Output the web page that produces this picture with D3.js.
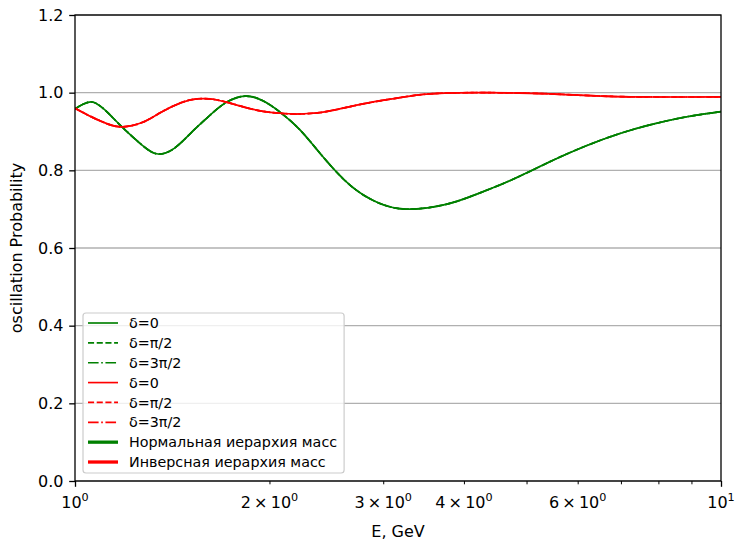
<!DOCTYPE html>
<html>
<head>
<meta charset="utf-8">
<script src="https://cdn.jsdelivr.net/npm/d3@7"></script>
<style>
  html, body { margin: 0; padding: 0; background: #fff; }
  svg { display: block; font-family: "DejaVu Sans", sans-serif; }
</style>
</head>
<body>
<svg id="chart" width="735" height="544"></svg>
<script>
// ---- data ----
const energiesNormal = [1.000, 1.029, 1.0625, 1.093, 1.125, 1.182, 1.270, 1.344, 1.428, 1.5175, 1.606, 1.707, 1.833, 1.954, 2.0765, 2.230, 2.420, 2.665, 2.934, 3.265, 3.766, 4.236, 4.765, 5.495, 6.203, 6.977, 7.848, 8.859, 10.0];
const normalProb = [0.958, 0.970, 0.976, 0.966, 0.948, 0.912, 0.865, 0.842, 0.858, 0.899, 0.937, 0.973, 0.991, 0.979, 0.950, 0.904, 0.835, 0.762, 0.718, 0.700, 0.713, 0.742, 0.777, 0.826, 0.864, 0.895, 0.919, 0.938, 0.951];
const energiesInverted = [1.000, 1.0625, 1.125, 1.182, 1.270, 1.364, 1.464, 1.545, 1.635, 1.738, 1.846, 1.954, 2.0765, 2.206, 2.336, 2.482, 2.791, 3.151, 3.544, 4.281, 5.436, 6.903, 10.0];
const invertedProb = [0.960, 0.937, 0.919, 0.912, 0.923, 0.951, 0.975, 0.984, 0.983, 0.973, 0.961, 0.952, 0.947, 0.945, 0.947, 0.953, 0.971, 0.986, 0.997, 1.000, 0.997, 0.990, 0.989];
const deltaLabels = ["δ=0", "δ=π/2", "δ=3π/2"];
const hierarchyLabels = ["Нормальная иерархия масс", "Инверсная иерархия масс"];
const yTicks = [0.0, 0.2, 0.4, 0.6, 0.8, 1.0, 1.2];
const xMajorTicks = [1, 10];
const xMinorTicks = [2, 3, 4, 5, 6, 7, 8, 9];
const xTickLabels = [
  { v: 1, mant: null, exp: "0" },
  { v: 2, mant: "2", exp: "0" },
  { v: 3, mant: "3", exp: "0" },
  { v: 4, mant: "4", exp: "0" },
  { v: 6, mant: "6", exp: "0" },
  { v: 10, mant: null, exp: "1" }
];
const xLabel = "E, GeV";
const yLabel = "oscillation Probability";

// ---- layout ----
const W = 735, H = 544;
const m = { left: 75, right: 14, top: 15, bottom: 63 };
const pw = W - m.left - m.right, ph = H - m.top - m.bottom;
const tickFont = 16, legendFont = 14.3;
const colors = ["#008000", "#ff0000"];
const dashes = [null, "6.1,2.6", "10.6,2.6,1.65,2.6"];

const svg = d3.select("#chart");
const g = svg.append("g").attr("transform", `translate(${m.left},${m.top})`);

const x = d3.scaleLog().domain([1, 10]).range([0, pw]);
const y = d3.scaleLinear().domain([0, 1.2]).range([ph, 0]);

// grid
g.append("g").selectAll("line").data(yTicks).join("line")
  .attr("x1", 0).attr("x2", pw)
  .attr("y1", d => y(d)).attr("y2", d => y(d))
  .attr("stroke", "#b0b0b0").attr("stroke-width", 1.3);

// clip
svg.append("defs").append("clipPath").attr("id", "clip")
  .append("rect").attr("x", 0).attr("y", 0).attr("width", pw).attr("height", ph);

const line = d3.line().x(d => x(d[0])).y(d => y(d[1])).curve(d3.curveNatural);
const series = [[energiesNormal, normalProb], [energiesInverted, invertedProb]];
const lines = g.append("g").attr("clip-path", "url(#clip)");
series.forEach(([es, vals], si) => {
  const pts = es.map((e, i) => [e, vals[i]]);
  dashes.forEach(da => {
    lines.append("path").datum(pts)
      .attr("d", line).attr("fill", "none")
      .attr("stroke", colors[si]).attr("stroke-width", 1.7)
      .attr("stroke-dasharray", da);
  });
});

// y axis
const yAxis = g.append("g").call(d3.axisLeft(y).tickValues(yTicks).tickFormat(d3.format(".1f")).tickSize(5.8).tickPadding(5.8));
yAxis.select(".domain").remove();
yAxis.selectAll("text").attr("font-size", tickFont).attr("fill", "#000").attr("font-family", "DejaVu Sans");
yAxis.selectAll("line").attr("stroke-width", 1.3);

// x axis ticks
const xAxisG = g.append("g").attr("transform", `translate(0,${ph})`);
xAxisG.call(d3.axisBottom(x).tickValues(xMajorTicks).tickFormat("").tickSize(5.8));
xAxisG.select(".domain").remove();
xAxisG.selectAll("line").attr("stroke-width", 1.3);
const xMinorG = g.append("g").attr("transform", `translate(0,${ph})`);
xMinorG.call(d3.axisBottom(x).tickValues(xMinorTicks).tickFormat("").tickSize(3.3));
xMinorG.select(".domain").remove();
xMinorG.selectAll("line").attr("stroke-width", 1.0);

// x tick labels with superscripts
const xl = g.append("g").attr("transform", `translate(0,${ph})`);
xTickLabels.forEach(t => {
  const tx = xl.append("text")
    .attr("x", x(t.v)).attr("y", 5.8 + 5.8 + 15)
    .attr("text-anchor", "middle").attr("font-size", tickFont).attr("fill", "#000");
  if (t.mant) {
    tx.append("tspan").text(t.mant + "\u2009×\u200910");
  } else {
    tx.append("tspan").text("10");
  }
  tx.append("tspan").text(t.exp).attr("font-size", tickFont * 0.7).attr("dy", -7);
});

// frame
g.append("rect").attr("x", 0).attr("y", 0).attr("width", pw).attr("height", ph)
  .attr("fill", "none").attr("stroke", "#000").attr("stroke-width", 1.3);

// axis labels
svg.append("text").attr("x", m.left + pw / 2).attr("y", 537)
  .attr("text-anchor", "middle").attr("font-size", tickFont).attr("fill", "#000").text(xLabel);
svg.append("text").attr("transform", `translate(22,${m.top + ph / 2}) rotate(-90)`)
  .attr("text-anchor", "middle").attr("font-size", tickFont).attr("fill", "#000").text(yLabel);

// legend
const legendItems = [];
colors.forEach((c, ci) => {
  deltaLabels.forEach((lab, di) => legendItems.push({ label: lab, color: c, dash: dashes[di], width: 1.65 }));
});
hierarchyLabels.forEach((lab, i) => legendItems.push({ label: lab, color: colors[i], dash: null, width: 3.3 }));

const lg = svg.append("g");
const boxRect = lg.append("rect");
const rowY0 = 323, rowStep = 19.86, handleX0 = 88, handleX1 = 118, textX = 129;
let maxW = 0;
legendItems.forEach((it, i) => {
  const cy = rowY0 + i * rowStep;
  lg.append("line").attr("x1", handleX0).attr("x2", handleX1).attr("y1", cy).attr("y2", cy)
    .attr("stroke", it.color).attr("stroke-width", it.width).attr("stroke-dasharray", it.dash);
  const t = lg.append("text").attr("x", textX).attr("y", cy).attr("dy", "0.36em")
    .attr("font-size", legendFont).attr("fill", "#000").text(it.label);
  maxW = Math.max(maxW, t.node().getComputedTextLength());
});
boxRect.attr("x", 83).attr("y", 313).attr("width", textX + maxW + 7 - 83).attr("height", 160)
  .attr("rx", 3).attr("ry", 3)
  .attr("fill", "#fff").attr("fill-opacity", 0.8)
  .attr("stroke", "#cccccc").attr("stroke-width", 1.2);
</script>
</body>
</html>
